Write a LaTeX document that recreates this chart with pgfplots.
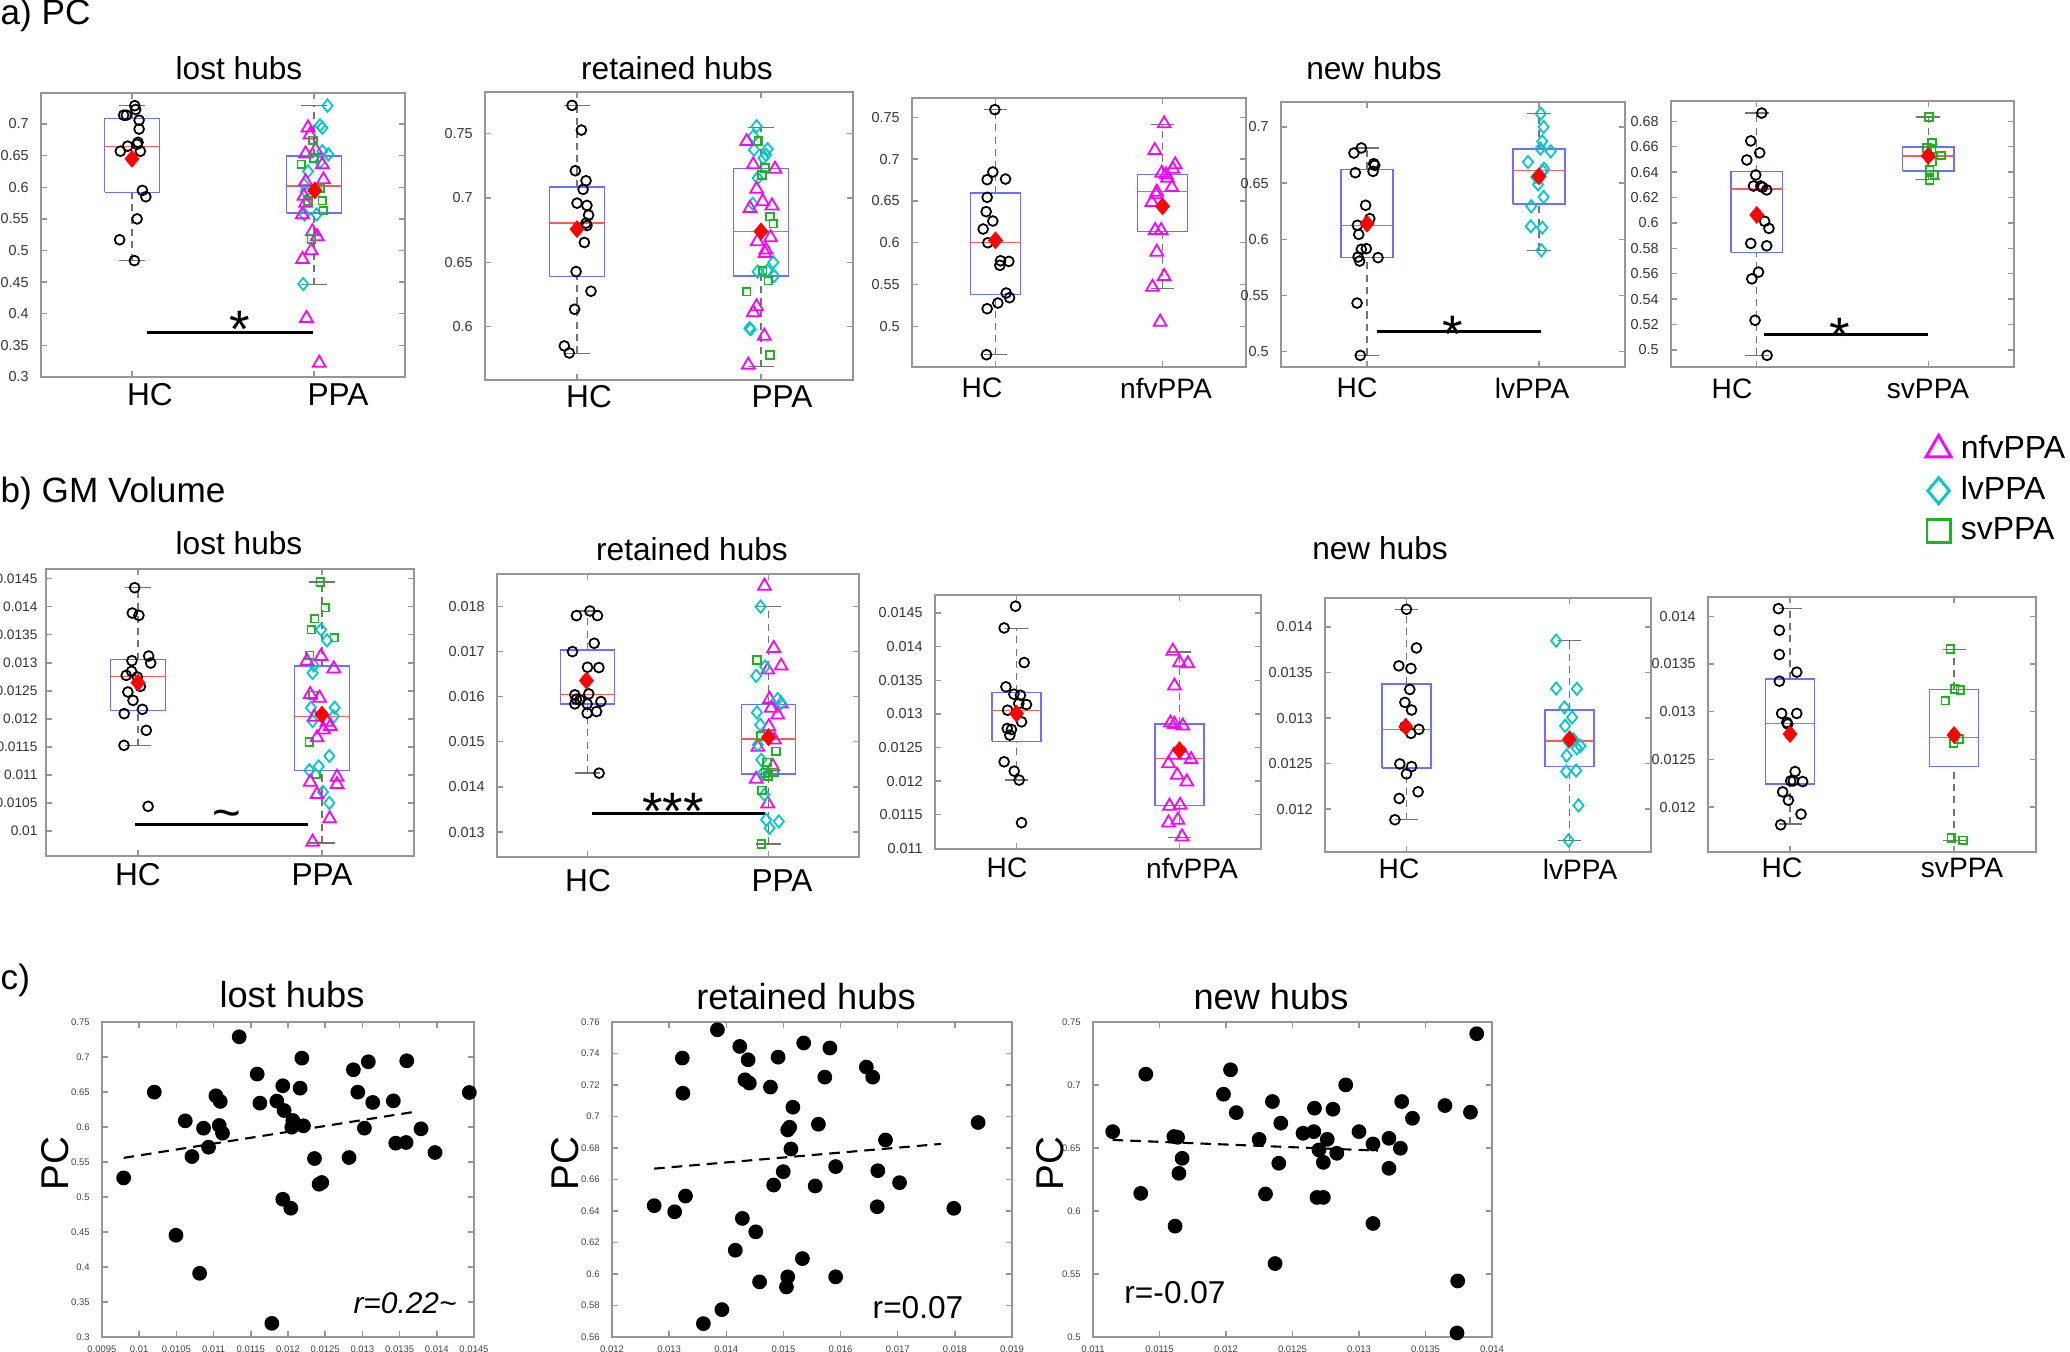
\documentclass[border=0pt]{standalone}
\usepackage{fontspec}
\setmainfont{Liberation Sans}
\usepackage{pgfplots}
\pgfplotsset{compat=1.18}
\definecolor{mg}{RGB}{255,0,255}
\definecolor{cy}{RGB}{0,200,200}
\definecolor{gr}{RGB}{30,180,30}
\definecolor{boxblue}{RGB}{110,110,255}
\definecolor{medred}{RGB}{255,90,90}
\definecolor{axg}{RGB}{150,150,150}

% box: position, lower cap, q1, median, q3, upper cap
\newcommand\bx[6]{%
  \pgfmathsetmacro\bxa{#1-0.15}\pgfmathsetmacro\bxb{#1+0.15}%
  \pgfmathsetmacro\bxc{#1-0.07}\pgfmathsetmacro\bxd{#1+0.07}%
  \edef\bxtmp{%
    \noexpand\addplot[draw=black!55, dash pattern=on 2pt off 1.5pt, line width=0.4pt] coordinates {(#1,#2) (#1,#3)};
    \noexpand\addplot[draw=black!55, dash pattern=on 2pt off 1.5pt, line width=0.4pt] coordinates {(#1,#5) (#1,#6)};
    \noexpand\addplot[draw=black!55, line width=0.4pt] coordinates {(\bxc,#2) (\bxd,#2)};
    \noexpand\addplot[draw=black!55, line width=0.4pt] coordinates {(\bxc,#6) (\bxd,#6)};
    \noexpand\addplot[draw=boxblue, line width=0.45pt] coordinates {(\bxa,#3) (\bxb,#3) (\bxb,#5) (\bxa,#5) (\bxa,#3)};
    \noexpand\addplot[draw=medred, line width=0.4pt] coordinates {(\bxa,#4) (\bxb,#4)};
  }\bxtmp}

\pgfplotsset{
  bp/.style={scale only axis, anchor=south west, xmin=0.5, xmax=2.5, xtick={1,2}, xticklabels={},
    axis line style={draw=axg, line width=0.45pt}, tick style={draw=axg, line width=0.4pt},
    tick align=inside, major tick length=1.6pt, scaled y ticks=false,
    /pgf/number format/assume math mode=true,
    yticklabel style={font=\fontsize{4.1}{5}\selectfont, text=black!80, /pgf/number format/fixed, /pgf/number format/precision=4}},
  sct/.style={scale only axis, anchor=south west,
    axis line style={draw=axg, line width=0.45pt}, tick style={draw=axg, line width=0.4pt},
    tick align=inside, major tick length=1.6pt, scaled ticks=false,
    /pgf/number format/assume math mode=true,
    ticklabel style={font=\fontsize{2.7}{3}\selectfont, text=black!75, /pgf/number format/fixed, /pgf/number format/precision=4},
    xticklabel style={yshift=1pt},
    ylabel={PC}, ylabel style={font=\fontsize{11}{12}\selectfont, anchor=center}},
  hc/.style={only marks, mark=o, mark size=1.4pt, mark options={line width=0.5pt, draw=black}},
  nf/.style={only marks, mark=triangle, mark size=2.1pt, mark options={line width=0.5pt, draw=mg}},
  lv/.style={only marks, mark=diamond, mark size=1.75pt, mark options={line width=0.5pt, draw=cy, xscale=1.1}},
  sv/.style={only marks, mark=square, mark size=1.1pt, mark options={line width=0.5pt, draw=gr}},
  mn/.style={only marks, mark=diamond*, mark size=2.4pt, mark options={draw=red, fill=red, line width=0.2pt, xscale=1.1}},
  dots/.style={only marks, mark=*, mark size=1.9pt, mark options={draw=black, fill=black}},
  sig/.style={draw=black, line width=0.9pt},
  fit/.style={draw=black, line width=0.6pt, dash pattern=on 3pt off 2pt},
}

\begin{document}
\begin{tikzpicture}
\path[use as bounding box] (0,0) rectangle (20.7,-13.51);

% ---------------- a) PC ----------------
\node[anchor=west, inner sep=0, font=\fontsize{10}{11}\selectfont] at (0,-0.15) {a) PC};
\node[inner sep=0, font=\fontsize{9}{10}\selectfont] at (2.39,-0.68) {lost hubs};
\node[inner sep=0, font=\fontsize{9}{10}\selectfont] at (6.77,-0.68) {retained hubs};
\node[inner sep=0, font=\fontsize{9}{10}\selectfont] at (13.74,-0.68) {new hubs};

\begin{axis}[bp, at={(0.41cm,-3.77cm)}, width=3.64cm, height=2.84cm, ymin=0.3, ymax=0.749,
  ytick={0.3,0.35,0.4,0.45,0.5,0.55,0.6,0.65,0.7}]
\bx{1}{0.484}{0.592}{0.664}{0.7087}{0.729}
\bx{2}{0.446}{0.559}{0.602}{0.649}{0.729}
\addplot[hc] coordinates {(1.015,0.729) (1.020,0.723) (0.954,0.714) (0.969,0.714) (1.039,0.706) (1.039,0.692) (0.976,0.665) (1.033,0.671) (1.028,0.668) (0.936,0.657) (1.046,0.657) (1.057,0.595) (1.076,0.585) (1.028,0.550) (0.932,0.517) (1.013,0.484)};
\addplot[lv] coordinates {(2.074,0.729) (2.033,0.698) (2.046,0.694) (2.046,0.657) (2.079,0.652) (1.967,0.625) (1.945,0.604) (1.954,0.593) (2.015,0.557) (1.948,0.557) (1.941,0.447) (2.033,0.640)};
\addplot[nf] coordinates {(1.967,0.694) (1.978,0.683) (1.954,0.653) (2.009,0.659) (2.046,0.636) (2.052,0.612) (1.954,0.609) (1.945,0.586) (1.954,0.575) (1.936,0.557) (1.991,0.530) (2.018,0.522) (1.985,0.500) (1.937,0.486) (1.959,0.393) (2.029,0.322)};
\addplot[sv] coordinates {(1.994,0.674) (2.0,0.646) (1.930,0.636) (2.033,0.599) (1.967,0.578) (2.046,0.579) (2.052,0.563) (1.985,0.518)};
\addplot[mn] coordinates {(1,0.645) (2.004,0.595)};
\addplot[sig] coordinates {(1.083,0.37) (1.993,0.37)};
\node[font=\fontsize{15}{15}\selectfont, inner sep=0, yshift=-3.3pt] at (axis cs:1.59,0.393) {*};
\end{axis}

\begin{axis}[bp, at={(4.85cm,-3.80cm)}, width=3.68cm, height=2.88cm, ymin=0.5585, ymax=0.7824,
  ytick={0.6,0.65,0.7,0.75}]
\bx{1}{0.5792}{0.6389}{0.6807}{0.7087}{0.772}
\bx{2}{0.5689}{0.6394}{0.674}{0.723}{0.7549}
\addplot[hc] coordinates {(0.973,0.772) (1.024,0.7528) (0.991,0.7212) (1.049,0.7134) (1.033,0.7067) (1.0,0.696) (1.054,0.6942) (1.063,0.6867) (1.049,0.6805) (1.054,0.6786) (1.040,0.6654) (0.995,0.6428) (1.076,0.6275) (0.987,0.6135) (0.931,0.585) (0.958,0.5795)};
\addplot[lv] coordinates {(1.976,0.7557) (1.958,0.748) (1.962,0.7375) (2.036,0.738) (2.027,0.7336) (2.013,0.731) (1.982,0.7155) (1.955,0.6955) (1.982,0.6428) (2.034,0.6436) (2.067,0.650) (2.072,0.6394) (1.937,0.5987) (1.944,0.598)};
\addplot[nf] coordinates {(1.922,0.744) (1.958,0.7259) (2.076,0.7225) (1.976,0.7069) (2.009,0.6973) (1.940,0.692) (2.060,0.694) (2.052,0.6693) (1.980,0.6662) (2.027,0.6597) (2.022,0.657) (1.976,0.6156) (1.958,0.611) (2.018,0.5927) (1.931,0.5702)};
\addplot[sv] coordinates {(1.986,0.7443) (2.022,0.7233) (2.005,0.718) (2.049,0.6856) (2.067,0.680) (2.009,0.6436) (2.040,0.6358) (1.922,0.6272) (2.049,0.578)};
\addplot[mn] coordinates {(1,0.6758) (2,0.674)};
\end{axis}

\begin{axis}[bp, at={(9.12cm,-3.67cm)}, width=3.34cm, height=2.69cm, ymin=0.4514, ymax=0.7731,
  ytick={0.5,0.55,0.6,0.65,0.7,0.75}]
\bx{1}{0.4661}{0.5379}{0.6001}{0.6595}{0.7592}
\bx{2}{0.5455}{0.6136}{0.6615}{0.6814}{0.7412}
\addplot[hc] coordinates {(0.996,0.7592) (0.984,0.6846) (0.950,0.6754) (1.060,0.6762) (0.950,0.6543) (0.944,0.6372) (0.984,0.626) (0.926,0.6164) (0.954,0.600) (1.030,0.5785) (1.080,0.5777) (1.026,0.573) (1.064,0.5399) (1.084,0.5343) (1.014,0.5279) (0.950,0.5211) (0.946,0.4661)};
\addplot[nf] coordinates {(2.010,0.7424) (1.954,0.7105) (2.076,0.6934) (2.062,0.6882) (1.996,0.6834) (2.022,0.6814) (2.030,0.6774) (2.056,0.6663) (1.966,0.6607) (1.962,0.6575) (1.936,0.6483) (1.956,0.6148) (1.992,0.6148) (1.966,0.5889) (2.010,0.5598) (1.940,0.547) (1.986,0.5052)};
\addplot[mn] coordinates {(1,0.6029) (2,0.6435)};
\end{axis}

\begin{axis}[bp, at={(12.81cm,-3.67cm)}, width=3.44cm, height=2.65cm, ymin=0.4864, ymax=0.7222,
  ytick={0.5,0.55,0.6,0.65,0.7}]
\bx{1}{0.4967}{0.5837}{0.6122}{0.6623}{0.6813}
\bx{2}{0.5902}{0.6317}{0.6611}{0.6804}{0.7118}
\addplot[hc] coordinates {(0.967,0.6813) (0.924,0.6768) (1.039,0.6673) (1.045,0.6659) (1.035,0.6605) (0.932,0.6593) (0.992,0.6303) (1.016,0.6184) (0.944,0.6125) (0.952,0.6044) (0.967,0.5911) (0.996,0.5917) (0.948,0.5843) (0.957,0.5807) (1.064,0.5837) (0.942,0.5433) (0.961,0.4967)};
\addplot[lv] coordinates {(2.010,0.7118) (2.027,0.700) (2.019,0.6872) (2.008,0.6807) (2.068,0.6783) (1.936,0.6688) (2.029,0.6629) (2.023,0.6605) (1.984,0.6555) (1.994,0.6489) (2.027,0.6377) (1.955,0.6294) (1.952,0.6116) (2.019,0.6104) (2.014,0.5902)};
\addplot[mn] coordinates {(1,0.6139) (2,0.6561)};
\addplot[sig] coordinates {(1.058,0.5181) (2.013,0.5181)};
\node[font=\fontsize{15}{15}\selectfont, inner sep=0, yshift=-3.3pt] at (axis cs:1.496,0.526) {*};
\end{axis}

\begin{axis}[bp, at={(16.71cm,-3.67cm)}, width=3.43cm, height=2.66cm, ymin=0.4866, ymax=0.696,
  ytick={0.5,0.52,0.54,0.56,0.58,0.6,0.62,0.64,0.66,0.68},
  legend style={at={(axis description cs:0.711,-0.215)}, anchor=north west, draw=none, fill=none,
    font=\fontsize{9.1}{10}\selectfont, row sep=1.6pt, nodes={inner sep=1pt}, cells={anchor=west}},
  legend image code/.code={\draw[#1] plot coordinates {(0.15cm,0cm)}; \path (0.33cm,0cm);}]
\addlegendimage{only marks, mark=triangle, mark size=4.1pt, mark options={line width=0.8pt, draw=mg}}
\addlegendentry{nfvPPA}
\addlegendimage{only marks, mark=diamond, mark size=3.7pt, mark options={line width=0.8pt, draw=cy, xscale=1.1}}
\addlegendentry{lvPPA}
\addlegendimage{only marks, mark=square, mark size=3.3pt, mark options={line width=0.8pt, draw=gr}}
\addlegendentry{svPPA}
\bx{1}{0.4958}{0.5768}{0.6268}{0.6404}{0.6865}
\bx{2}{0.6341}{0.6407}{0.6528}{0.6596}{0.6833}
\addplot[hc] coordinates {(1.029,0.6865) (0.965,0.6646) (1.017,0.6552) (0.942,0.6496) (0.994,0.6378) (0.981,0.6291) (1.023,0.6291) (1.033,0.6281) (1.058,0.626) (1.046,0.6013) (1.071,0.5957) (0.965,0.5839) (1.058,0.582) (1.010,0.5613) (0.971,0.556) (0.990,0.5234) (1.060,0.4958)};
\addplot[sv] coordinates {(2.004,0.6833) (2.021,0.6628) (1.992,0.6589) (2.019,0.6581) (2.075,0.6531) (2.023,0.6483) (2.008,0.6418) (2.035,0.6376) (2.008,0.6339)};
\addplot[mn] coordinates {(1,0.6063) (2,0.6528)};
\addplot[sig] coordinates {(1.042,0.5121) (1.998,0.5121)};
\node[font=\fontsize{15}{15}\selectfont, inner sep=0, yshift=-3.3pt] at (axis cs:1.481,0.5195) {*};
\end{axis}

% x labels, row a
\begin{scope}[every node/.style={inner sep=0, font=\fontsize{9}{10}\selectfont}]
\node at (1.50,-3.95) {HC};   \node at (3.38,-3.95) {PPA};
\node at (5.89,-3.97) {HC};   \node at (7.82,-3.97) {PPA};
\end{scope}
\begin{scope}[every node/.style={inner sep=0, font=\fontsize{8}{9}\selectfont}]
\node at (9.82,-3.88) {HC};   \node at (11.66,-3.88) {nfvPPA};
\node at (13.57,-3.88) {HC};  \node at (15.32,-3.88) {lvPPA};
\node at (17.32,-3.89) {HC};  \node at (19.28,-3.89) {svPPA};
\end{scope}

% ---------------- b) GM Volume ----------------
\node[anchor=west, inner sep=0, font=\fontsize{10}{11}\selectfont] at (0,-4.93) {b) GM Volume};
\node[inner sep=0, font=\fontsize{9}{10}\selectfont] at (2.39,-5.43) {lost hubs};
\node[inner sep=0, font=\fontsize{9}{10}\selectfont] at (6.92,-5.49) {retained hubs};
\node[inner sep=0, font=\fontsize{9}{10}\selectfont] at (13.80,-5.48) {new hubs};

\begin{axis}[bp, at={(0.46cm,-8.56cm)}, width=3.68cm, height=2.87cm, ymin=0.009554, ymax=0.014673,
  ytick={0.01,0.0105,0.011,0.0115,0.012,0.0125,0.013,0.0135,0.014,0.0145},
  yticklabel style={font=\fontsize{3.9}{5}\selectfont, xshift=1.1pt}]
\bx{1}{0.011522}{0.012152}{0.012753}{0.013056}{0.01434}
\bx{2}{0.009786}{0.011082}{0.012045}{0.012943}{0.014441}
\addplot[hc] coordinates {(0.982,0.01434) (0.969,0.013888) (1.005,0.013846) (1.058,0.013121) (1.069,0.012996) (0.967,0.013038) (0.965,0.012848) (0.936,0.012776) (0.996,0.012747) (0.945,0.012479) (1.013,0.01258) (0.973,0.01233) (0.925,0.012093) (1.024,0.01217) (1.045,0.011795) (0.924,0.011528) (1.055,0.01044)};
\addplot[sv] coordinates {(1.991,0.014441) (2.018,0.013983) (1.960,0.013787) (1.942,0.013591) (2.067,0.013448) (1.933,0.013133) (1.951,0.01242) (1.931,0.011587) (1.969,0.01101)};
\addplot[lv] coordinates {(1.995,0.013591) (2.027,0.013401) (1.955,0.012955) (1.949,0.012818) (1.940,0.0122) (2.069,0.0122) (2.064,0.012045) (1.949,0.011962) (2.040,0.011338) (1.931,0.011082) (1.982,0.011153) (2.005,0.010696) (2.040,0.0105)};
\addplot[nf] coordinates {(1.995,0.013115) (1.918,0.01303) (2.064,0.012895) (1.936,0.012437) (1.987,0.012372) (1.958,0.012033) (2.027,0.011944) (2.045,0.011867) (2.009,0.011807) (1.973,0.011665) (2.082,0.010963) (1.936,0.010874) (2.082,0.010832) (1.973,0.010654) (2.042,0.01022) (1.949,0.009804)};
\addplot[mn] coordinates {(1,0.012646) (2,0.012075)};
\addplot[sig] coordinates {(0.982,0.010119) (1.922,0.010119)};
\node[font=\fontsize{14}{14}\selectfont, inner sep=0, yshift=-1.8pt] at (axis cs:1.482,0.01031) {\char`\~};
\end{axis}

\begin{axis}[bp, at={(4.97cm,-8.57cm)}, width=3.62cm, height=2.83cm, ymin=0.012447, ymax=0.018716,
  ytick={0.013,0.014,0.015,0.016,0.017,0.018}]
\bx{1}{0.014305}{0.015839}{0.016053}{0.017034}{0.017897}
\bx{2}{0.012734}{0.014291}{0.015058}{0.015825}{0.018}
\addplot[hc] coordinates {(1.013,0.017897) (0.939,0.017794) (1.055,0.017794) (1.037,0.017182) (0.917,0.016997) (1.0,0.016651) (1.063,0.016643) (0.930,0.016039) (1.007,0.016061) (0.939,0.015943) (0.930,0.015839) (0.958,0.015928) (0.998,0.015839) (1.074,0.015891) (1.050,0.01567) (0.998,0.015633) (1.064,0.014305)};
\addplot[nf] coordinates {(1.978,0.01845) (2.029,0.017071) (2.070,0.01668) (1.996,0.016592) (2.006,0.015943) (2.015,0.015744) (2.070,0.015839) (2.051,0.015596) (2.002,0.015338) (2.033,0.015043) (1.941,0.01488) (2.024,0.014453) (1.932,0.014173) (1.996,0.013627)};
\addplot[lv] coordinates {(1.956,0.017993) (1.982,0.016665) (1.932,0.016459) (2.051,0.015943) (2.070,0.015854) (1.936,0.015648) (1.954,0.015375) (1.941,0.014932) (1.960,0.0146) (1.969,0.014305) (1.978,0.013826) (1.987,0.013273) (2.006,0.013088) (2.057,0.013236)};
\addplot[sv] coordinates {(1.936,0.016813) (1.956,0.015131) (2.042,0.014785) (1.993,0.014541) (1.983,0.014305) (1.996,0.014246) (2.029,0.01432) (1.965,0.013922) (1.960,0.012734)};
\addplot[mn] coordinates {(0.994,0.016356) (2,0.015102)};
\addplot[sig] coordinates {(1.026,0.01342) (1.978,0.01342)};
\node[font=\fontsize{15}{15}\selectfont, inner sep=0, yshift=-3.3pt] at (axis cs:1.472,0.013715) {***};
\end{axis}

\begin{axis}[bp, at={(9.35cm,-8.49cm)}, width=3.26cm, height=2.54cm, ymin=0.01099, ymax=0.014767,
  ytick={0.011,0.0115,0.012,0.0125,0.013,0.0135,0.014,0.0145}]
\bx{1}{0.012015}{0.012589}{0.013049}{0.013317}{0.01427}
\bx{2}{0.011158}{0.011634}{0.012337}{0.012846}{0.01392}
\addplot[hc] coordinates {(0.994,0.0146) (0.924,0.014277) (1.047,0.013762) (0.935,0.013401) (0.984,0.013292) (1.024,0.013277) (1.014,0.013153) (1.061,0.013138) (0.945,0.013054) (1.031,0.012881) (0.943,0.012782) (0.969,0.012767) (0.959,0.012683) (0.924,0.012287) (0.986,0.012148) (1.016,0.012015) (1.031,0.011381)};
\addplot[nf] coordinates {(1.959,0.013935) (2.0,0.013762) (2.051,0.013747) (1.969,0.013416) (1.945,0.012866) (1.969,0.012846) (2.020,0.012822) (1.965,0.012386) (2.031,0.012386) (2.071,0.012322) (1.933,0.012262) (1.986,0.012089) (2.045,0.01199) (1.939,0.011629) (2.004,0.011643) (1.933,0.011381) (1.990,0.011421) (2.016,0.011173)};
\addplot[mn] coordinates {(1,0.013005) (2,0.01246)};
\end{axis}

\begin{axis}[bp, at={(13.25cm,-8.52cm)}, width=3.26cm, height=2.54cm, ymin=0.011529, ymax=0.014318,
  ytick={0.012,0.0125,0.013,0.0135,0.014}]
\bx{1}{0.011883}{0.012449}{0.012876}{0.013372}{0.014194}
\bx{2}{0.011657}{0.012467}{0.012748}{0.013088}{0.01385}
\addplot[hc] coordinates {(1.0,0.014194) (1.061,0.01377) (0.953,0.013573) (1.027,0.013544) (1.020,0.013314) (0.990,0.013172) (1.031,0.013088) (1.076,0.012876) (1.027,0.012832) (0.990,0.012905) (0.959,0.012496) (1.031,0.012467) (1.0,0.012387) (1.071,0.01219) (0.955,0.012117) (0.929,0.011883)};
\addplot[lv] coordinates {(1.918,0.01385) (1.918,0.013325) (2.045,0.013321) (1.969,0.013117) (2.016,0.013007) (1.973,0.012913) (2.024,0.012767) (1.994,0.012741) (2.067,0.012694) (2.045,0.012668) (1.982,0.012588) (1.980,0.012412) (2.041,0.012423) (2.055,0.01204) (1.994,0.011657)};
\addplot[mn] coordinates {(0.996,0.012905) (2,0.012767)};
\end{axis}

\begin{axis}[bp, at={(17.08cm,-8.52cm)}, width=3.28cm, height=2.55cm, ymin=0.01153, ymax=0.014202,
  ytick={0.012,0.0125,0.013,0.0135,0.014}]
\bx{1}{0.011822}{0.012244}{0.012878}{0.013341}{0.01408}
\bx{2}{0.011652}{0.012425}{0.012732}{0.013233}{0.013655}
\addplot[hc] coordinates {(0.929,0.01408) (0.935,0.013853) (0.935,0.013599) (1.041,0.013415) (0.935,0.01332) (0.949,0.012982) (1.041,0.012982) (0.980,0.012888) (0.986,0.012871) (1.031,0.012373) (1.004,0.012275) (1.077,0.012268) (1.020,0.012275) (0.955,0.01216) (0.990,0.012073) (1.067,0.011927) (0.943,0.011815)};
\addplot[sv] coordinates {(1.978,0.013655) (2.004,0.013237) (2.039,0.013226) (1.947,0.013115) (2.002,0.012739) (2.031,0.012714) (1.998,0.012669) (1.984,0.011676) (2.055,0.011652)};
\addplot[mn] coordinates {(1,0.012766) (2,0.012756)};
\end{axis}

% x labels, row b
\begin{scope}[every node/.style={inner sep=0, font=\fontsize{9}{10}\selectfont}]
\node at (1.38,-8.75) {HC};   \node at (3.22,-8.75) {PPA};
\node at (5.88,-8.81) {HC};   \node at (7.82,-8.81) {PPA};
\end{scope}
\begin{scope}[every node/.style={inner sep=0, font=\fontsize{8}{9}\selectfont}]
\node at (10.07,-8.68) {HC};  \node at (11.92,-8.68) {nfvPPA};
\node at (13.99,-8.69) {HC};  \node at (15.80,-8.69) {lvPPA};
\node at (17.82,-8.68) {HC};  \node at (19.62,-8.68) {svPPA};
\end{scope}

% ---------------- c) ----------------
\node[anchor=west, inner sep=0, font=\fontsize{10}{11}\selectfont] at (0,-9.80) {c)};
\node[inner sep=0, font=\fontsize{10.3}{11}\selectfont] at (2.92,-9.95) {lost hubs};
\node[inner sep=0, font=\fontsize{10.3}{11}\selectfont] at (8.06,-9.97) {retained hubs};
\node[inner sep=0, font=\fontsize{10.3}{11}\selectfont] at (12.71,-9.97) {new hubs};

\begin{axis}[sct, at={(1.02cm,-13.37cm)}, width=3.72cm, height=3.15cm,
  xmin=0.0095, xmax=0.0145, ymin=0.3, ymax=0.75,
  xtick={0.0095,0.01,0.0105,0.011,0.0115,0.012,0.0125,0.013,0.0135,0.014,0.0145},
  ytick={0.3,0.35,0.4,0.45,0.5,0.55,0.6,0.65,0.7,0.75},
  ylabel style={at={(axis description cs:-0.126,0.55)}}]
\addplot[fit] coordinates {(0.009791,0.5559) (0.01373,0.6222)};
\addplot[dots] coordinates {(0.011344,0.7289) (0.010203,0.6498) (0.009791,0.5273) (0.010619,0.6088) (0.010709,0.5578) (0.010865,0.5983) (0.010932,0.5712) (0.010494,0.4454) (0.010812,0.391) (0.011031,0.6446) (0.01109,0.6365) (0.011076,0.6022) (0.01112,0.5912) (0.011586,0.6756) (0.011622,0.6341) (0.01185,0.637) (0.01193,0.6589) (0.011948,0.6236) (0.012065,0.6093) (0.012051,0.5998) (0.012186,0.6984) (0.012163,0.6555) (0.012208,0.6017) (0.01193,0.4968) (0.012038,0.484) (0.011783,0.3195) (0.012356,0.555) (0.012418,0.5183) (0.012454,0.5207) (0.012821,0.5564) (0.012879,0.6818) (0.012938,0.6498) (0.01308,0.6932) (0.013027,0.5984) (0.013139,0.6351) (0.013416,0.6374) (0.013448,0.5769) (0.013587,0.5779) (0.013596,0.6946) (0.013788,0.5974) (0.013976,0.5636) (0.014437,0.6493)};
\end{axis}

\begin{axis}[sct, at={(6.12cm,-13.37cm)}, width=4.00cm, height=3.15cm,
  xmin=0.012, xmax=0.019, ymin=0.56, ymax=0.76,
  xtick={0.012,0.013,0.014,0.015,0.016,0.017,0.018,0.019},
  ytick={0.56,0.58,0.6,0.62,0.64,0.66,0.68,0.7,0.72,0.74,0.76},
  ylabel style={at={(axis description cs:-0.118,0.55)}}]
\addplot[fit] coordinates {(0.012738,0.6669) (0.017759,0.6826)};
\addplot[dots] coordinates {(0.013845,0.7551) (0.01323,0.7371) (0.013241,0.7148) (0.014236,0.7445) (0.014382,0.736) (0.014326,0.7233) (0.014404,0.7212) (0.014773,0.7187) (0.014907,0.7377) (0.015355,0.7467) (0.015813,0.7435) (0.015724,0.725) (0.016451,0.7314) (0.016562,0.725) (0.015165,0.7059) (0.015075,0.6915) (0.015109,0.6932) (0.015612,0.6951) (0.015131,0.6794) (0.014997,0.665) (0.014829,0.6565) (0.015556,0.6559) (0.015914,0.6682) (0.016652,0.6656) (0.016786,0.6851) (0.017032,0.658) (0.016641,0.6427) (0.017982,0.6417) (0.018407,0.6962) (0.012738,0.6434) (0.013096,0.6395) (0.013286,0.6495) (0.014281,0.6353) (0.014516,0.6268) (0.014158,0.6151) (0.015332,0.6098) (0.014583,0.595) (0.015075,0.5982) (0.015053,0.5918) (0.015914,0.5982) (0.013923,0.5774) (0.013599,0.5685)};
\end{axis}

\begin{axis}[sct, at={(10.93cm,-13.37cm)}, width=3.99cm, height=3.15cm,
  xmin=0.011, xmax=0.014, ymin=0.5, ymax=0.75,
  xtick={0.011,0.0115,0.012,0.0125,0.013,0.0135,0.014},
  ytick={0.5,0.55,0.6,0.65,0.7,0.75},
  ylabel style={at={(axis description cs:-0.108,0.55)}}]
\addplot[fit] coordinates {(0.011148,0.6564) (0.013144,0.6479)};
\addplot[dots] coordinates {(0.011148,0.663) (0.011397,0.7086) (0.011359,0.614) (0.011608,0.6591) (0.011636,0.6585) (0.01167,0.6418) (0.011646,0.6299) (0.011617,0.588) (0.011981,0.6927) (0.012034,0.7121) (0.012077,0.6781) (0.012249,0.6569) (0.012349,0.6869) (0.012412,0.6697) (0.012397,0.6379) (0.012297,0.6135) (0.012369,0.5583) (0.012579,0.6617) (0.01266,0.663) (0.012665,0.6816) (0.012699,0.6485) (0.012732,0.6386) (0.012761,0.6569) (0.012804,0.6808) (0.012833,0.6458) (0.012684,0.6108) (0.012732,0.6108) (0.0129,0.7001) (0.013,0.663) (0.013105,0.6532) (0.013105,0.5901) (0.013225,0.6577) (0.013225,0.6339) (0.013311,0.6498) (0.013321,0.6869) (0.013402,0.6736) (0.013646,0.6837) (0.013838,0.6784) (0.013885,0.7407) (0.013742,0.5445) (0.013737,0.5032)};
\end{axis}

\node[inner sep=0, font=\fontsize{8.5}{9}\itshape] at (4.05,-13.03) {r=0.22\char`\~};
\node[inner sep=0, font=\fontsize{9}{10}\selectfont] at (9.18,-13.08) {r=0.07};
\node[inner sep=0, font=\fontsize{9}{10}\selectfont] at (11.75,-12.93) {r=-0.07};
\end{tikzpicture}
\end{document}
